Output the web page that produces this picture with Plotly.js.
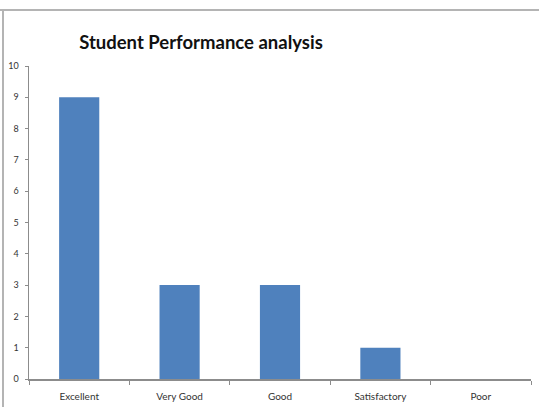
<!DOCTYPE html>
<html>
<head>
<meta charset="utf-8">
<script src="https://cdn.plot.ly/plotly-3.0.1.min.js"></script>
<style>
html,body{margin:0;padding:0;background:#fff;overflow:hidden;}
#wrap{position:relative;width:539px;height:407px;}
#chart{width:539px;height:407px;}
.frame-top{position:absolute;left:0;top:9px;width:539px;height:2px;background:#b4b4b4;pointer-events:none;}
.frame-left{position:absolute;left:2px;top:9px;width:2px;height:398px;background:#b4b4b4;pointer-events:none;}
</style>
</head>
<body>
<div id="wrap">
  <div id="chart"></div>
  <div class="frame-top"></div>
  <div class="frame-left"></div>
</div>
<script>
const categories = ["Excellent", "Very Good", "Good", "Satisfactory", "Poor"];
const counts = [9, 3, 3, 1, 0];
const yTicks = [0, 1, 2, 3, 4, 5, 6, 7, 8, 9, 10];

const W = 539, H = 407;
const M = {l: 29, r: 8, t: 66, b: 28};

const trace = {
  type: "bar",
  x: categories,
  y: counts,
  width: 0.4,
  marker: {color: "#4f81bd", line: {width: 0}},
  hoverinfo: "x+y"
};

const layout = {
  width: W, height: H,
  margin: M,
  paper_bgcolor: "#fff",
  plot_bgcolor: "#fff",
  showlegend: false,
  font: {family: "Lato, 'Open Sans', sans-serif", color: "#333"},
  title: {
    text: "<b>Student Performance analysis</b>",
    font: {family: "Lato, 'Open Sans', sans-serif", size: 18.5, color: "#111"},
    xref: "container", yref: "container",
    x: 201 / W, xanchor: "center",
    y: 1 - 43 / H, yanchor: "middle"
  },
  xaxis: {
    type: "category",
    range: [-0.5, categories.length - 0.5],
    tickson: "boundaries",
    ticks: "outside", ticklen: 4, tickcolor: "#8c8c8c", tickwidth: 1,
    showline: true, linecolor: "#8c8c8c", linewidth: 1.5,
    showgrid: false, zeroline: false,
    tickfont: {size: 10, color: "#333"},
    ticklabelstandoff: 7,
    fixedrange: true
  },
  yaxis: {
    range: [0, 10],
    tickmode: "array", tickvals: yTicks, ticktext: yTicks.map(String),
    ticks: "outside", ticklen: 3, tickcolor: "#8c8c8c", tickwidth: 1,
    showline: true, linecolor: "#8c8c8c", linewidth: 1.5,
    showgrid: false, zeroline: false,
    tickfont: {size: 9, color: "#333"},
    ticklabelstandoff: 4,
    fixedrange: true
  }
};

Plotly.newPlot("chart", [trace], layout, {displayModeBar: false, staticPlot: true});
</script>
</body>
</html>
